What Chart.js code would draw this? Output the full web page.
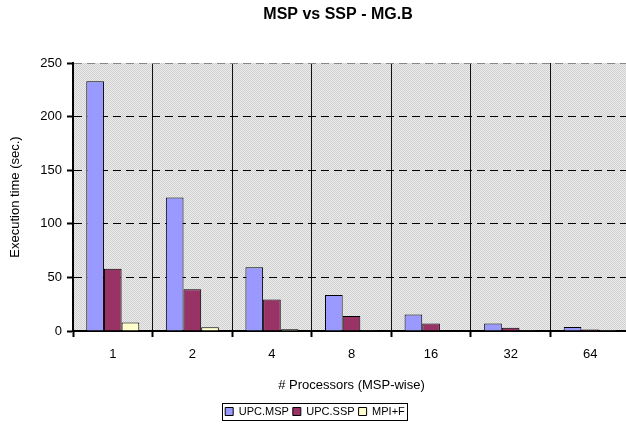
<!DOCTYPE html>
<html>
<head>
<meta charset="utf-8">
<script src="https://cdn.jsdelivr.net/npm/chart.js@4"></script>
<style>
  html, body { margin: 0; padding: 0; background: #fff; overflow: hidden; }
  #wrap { width: 626px; height: 427px; overflow: hidden; }
</style>
</head>
<body>
<div id="wrap"><canvas id="myChart" width="640" height="427"></canvas></div>
<script>
const processors = ['1', '2', '4', '8', '16', '32', '64'];
const upcMsp = [233, 124.5, 59.5, 33.5, 15.5, 7, 3.7];
const upcSsp = [58, 39, 29.5, 14, 7, 3, 1.3];
const mpiF = [8, 3.5, 1.6, 0.8, 0.4, 0.2, 0.1];
const yTicks = [0, 50, 100, 150, 200, 250];

const FONT = 'Liberation Sans, Arial, sans-serif';

// dotted grey fill of the plot area
const tile = document.createElement('canvas');
tile.width = 2; tile.height = 2;
const tctx = tile.getContext('2d');
tctx.fillStyle = '#ebebeb'; tctx.fillRect(0, 0, 2, 2);
tctx.fillStyle = '#d0d0d0'; tctx.fillRect(0, 0, 1, 1); tctx.fillRect(1, 1, 1, 1);

const plotBackground = {
  id: 'plotBackground',
  beforeDraw(chart) {
    const { ctx, chartArea: a } = chart;
    ctx.save();
    ctx.fillStyle = ctx.createPattern(tile, 'repeat');
    ctx.fillRect(a.left, a.top, a.right - a.left, a.bottom - a.top);
    ctx.restore();
  }
};

// title sits a bit left of the plot centre, like the original
const chartTitle = {
  id: 'chartTitle',
  afterDraw(chart) {
    const ctx = chart.ctx;
    ctx.save();
    ctx.font = 'bold 16px ' + FONT;
    ctx.fillStyle = '#000';
    ctx.textAlign = 'center';
    ctx.textBaseline = 'middle';
    ctx.fillText('MSP vs SSP - MG.B', 338, 15);
    ctx.restore();
  }
};

// frame around the legend
const legendFrame = {
  id: 'legendFrame',
  afterDraw(chart) {
    const hb = chart.legend.legendHitBoxes;
    if (!hb || !hb.length) return;
    const last = hb[hb.length - 1];
    const x1 = hb[0].left - 3, x2 = last.left + last.width + 2;
    const y1 = hb[0].top - 3, y2 = hb[0].top + hb[0].height + 3;
    const ctx = chart.ctx;
    ctx.save();
    ctx.strokeStyle = '#000';
    ctx.lineWidth = 1;
    ctx.strokeRect(Math.round(x1) + 0.5, Math.round(y1) + 0.5, Math.round(x2 - x1), Math.round(y2 - y1));
    ctx.restore();
  }
};

const ctx = document.getElementById('myChart');

new Chart(ctx, {
  type: 'bar',
  data: {
    labels: processors,
    datasets: [
      { label: 'UPC.MSP', data: upcMsp, backgroundColor: '#9999ff', borderColor: '#000', borderWidth: 1 },
      { label: 'UPC.SSP', data: upcSsp, backgroundColor: '#993366', borderColor: '#000', borderWidth: 1 },
      { label: 'MPI+F', data: mpiF, backgroundColor: '#ffffcc', borderColor: '#000', borderWidth: 1 }
    ]
  },
  plugins: [plotBackground, chartTitle, legendFrame],
  options: {
    responsive: false,
    animation: false,
    layout: { padding: { top: 63, right: 10, left: 0, bottom: 0 } },
    datasets: {
      bar: { categoryPercentage: 0.666, barPercentage: 1 }
    },
    plugins: {
      title: { display: false },
      tooltip: { enabled: false },
      legend: {
        position: 'bottom',
        labels: {
          boxWidth: 8,
          boxHeight: 8,
          padding: 4,
          color: '#000',
          font: { size: 11, family: FONT }
        }
      }
    },
    scales: {
      x: {
        afterFit(scale) { scale.height = 71; },
        grid: {
          offset: true,
          color: '#111',
          lineWidth: 1,
          drawTicks: true,
          tickLength: 6,
          tickWidth: 2,
          tickColor: '#000'
        },
        border: { display: true, color: '#000', width: 2 },
        ticks: { color: '#000', padding: 10, font: { size: 13, family: FONT } },
        title: {
          display: true,
          text: '# Processors (MSP-wise)',
          color: '#000',
          padding: { top: 6, bottom: 9 },
          font: { size: 13, family: FONT }
        }
      },
      y: {
        min: 0,
        max: 250,
        afterFit(scale) { scale.width = 73; },
        afterBuildTicks(scale) { scale.ticks = yTicks.map(v => ({ value: v })); },
        grid: {
          color: c => (c.tick && c.tick.value === 250 ? '#888' : '#000'),
          lineWidth: 1,
          drawTicks: true,
          tickLength: 6,
          tickWidth: 2,
          tickColor: '#000',
          tickBorderDash: []
        },
        border: { display: true, color: '#000', width: 2, dash: [8, 5] },
        ticks: { color: '#000', padding: 5, font: { size: 13, family: FONT } },
        title: {
          display: true,
          text: 'Execution time (sec.)',
          color: '#000',
          padding: { top: 8, bottom: 0 },
          font: { size: 13, family: FONT }
        }
      }
    }
  }
});
</script>
</body>
</html>
